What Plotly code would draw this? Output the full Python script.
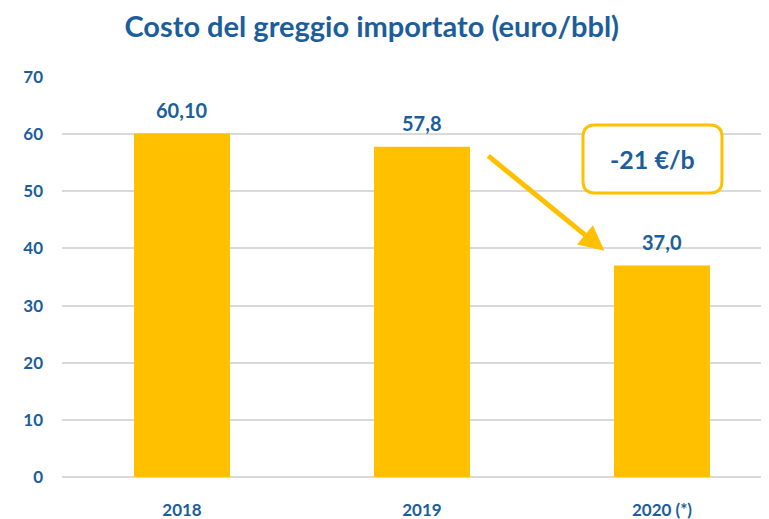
import plotly.graph_objects as go

categories = ["2018", "2019", "2020 (*)"]
values = [60.10, 57.8, 37.0]
value_labels = ["60,10", "57,8", "37,0"]
y_ticks = [0, 10, 20, 30, 40, 50, 60, 70]
title_text = "Costo del greggio importato (euro/bbl)"
delta_text = "-21 €/b"

BLUE = "#1B5E9B"
GOLD = "#FFC000"
FONT = "Lato"

fig = go.Figure()
xs = list(range(len(categories)))
fig.add_trace(go.Bar(
    x=xs, y=values,
    marker=dict(color=GOLD, line=dict(width=0)),
    width=0.4,
    hoverinfo="skip",
))
for xi, v, lab in zip(xs, values, value_labels):
    fig.add_annotation(x=xi, y=v, text=f"<b>{lab}</b>", showarrow=False,
                       yanchor="bottom", yshift=10,
                       font=dict(family=FONT, size=20, color=BLUE))

# rounded box
x0, x1, y0, y1 = 1.671, 2.25, 49.7, 61.6
rx, ry = 0.05, 2.1
path = (f"M {x0+rx},{y1} L {x1-rx},{y1} Q {x1},{y1} {x1},{y1-ry} "
        f"L {x1},{y0+ry} Q {x1},{y0} {x1-rx},{y0} L {x0+rx},{y0} "
        f"Q {x0},{y0} {x0},{y0+ry} L {x0},{y1-ry} Q {x0},{y1} {x0+rx},{y1} Z")
fig.add_shape(type="path", path=path, xref="x", yref="y",
              line=dict(color=GOLD, width=3), fillcolor="white")
fig.add_annotation(x=(x0+x1)/2, y=(y0+y1)/2, text=f"<b>{delta_text}</b>",
                   showarrow=False, font=dict(family=FONT, size=25, color=BLUE))
fig.add_annotation(x=1.76, y=39.6, ax=1.27, ay=56.4, axref="x", ayref="y",
                   xref="x", yref="y", text="", showarrow=True,
                   arrowhead=2, arrowsize=1, arrowwidth=5, arrowcolor=GOLD)

fig.update_layout(
    width=761, height=511,
    margin=dict(l=54, r=0, t=69, b=42),
    paper_bgcolor="white", plot_bgcolor="white",
    showlegend=False,
    title=dict(text=f"<b>{title_text}</b>", x=0.478, xanchor="center",
               y=0.964, yanchor="middle",
               font=dict(family=FONT, size=29, color=BLUE)),
    xaxis=dict(tickmode="array", tickvals=xs,
               ticktext=[f"<b>{c}</b>" for c in categories],
               range=[-0.5, 2.446], showgrid=False, zeroline=False,
               showline=False, ticks="", ticklabelstandoff=21,
               tickfont=dict(family=FONT, size=17, color=BLUE)),
    yaxis=dict(range=[0, 70], tickvals=y_ticks,
               ticktext=[f"<b>{t}</b>" for t in y_ticks],
               showgrid=True, gridcolor="#D9D9D9", gridwidth=1.5,
               zeroline=True, zerolinecolor="#D9D9D9", zerolinewidth=1.5,
               ticks="", ticklabelstandoff=18,
               tickfont=dict(family=FONT, size=17, color=BLUE)),
)

fig.write_html("out.html")
